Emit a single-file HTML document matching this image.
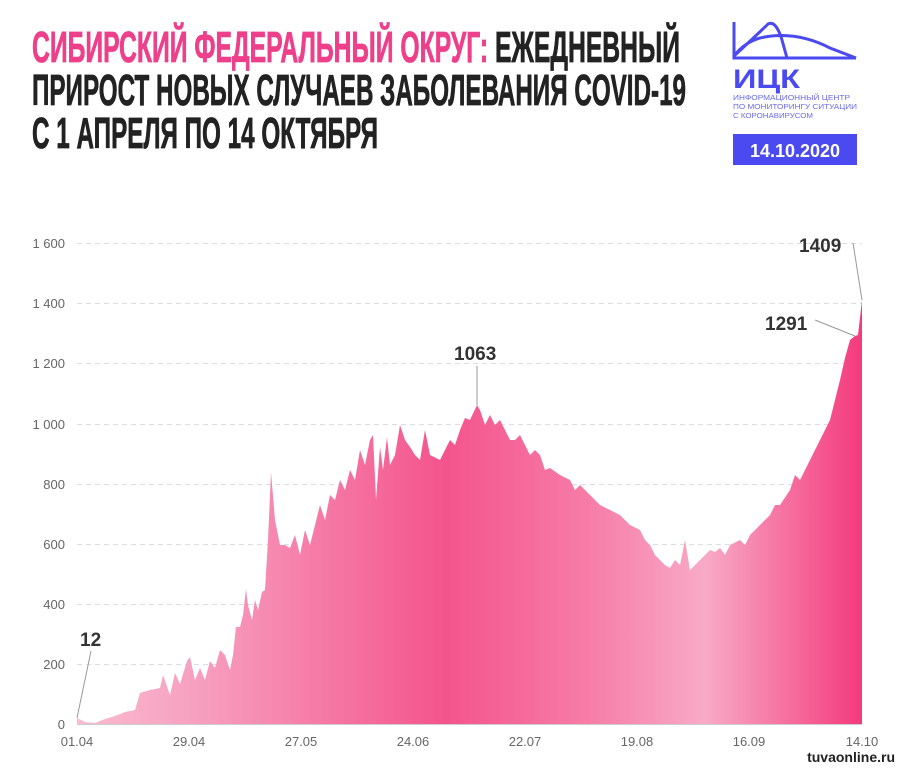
<!DOCTYPE html>
<html><head><meta charset="utf-8"><style>
html,body{margin:0;padding:0;background:#fff;}
svg{display:block;}
</style></head><body>
<svg width="900" height="769" viewBox="0 0 900 769" xmlns="http://www.w3.org/2000/svg">
<defs>
<linearGradient id="g" x1="77" y1="0" x2="862" y2="0" gradientUnits="userSpaceOnUse">
<stop offset="0" stop-color="#f8bcd0"/>
<stop offset="0.15" stop-color="#f7a0bf"/>
<stop offset="0.47" stop-color="#f4548c"/>
<stop offset="0.65" stop-color="#f67ca6"/>
<stop offset="0.8" stop-color="#f8aac6"/>
<stop offset="1" stop-color="#f43a7c"/>
</linearGradient>
</defs>
<g font-family="'Liberation Sans Narrow','Liberation Sans',sans-serif" font-weight="bold" font-size="44" stroke-width="0.8">
<text x="32" y="62" textLength="648" lengthAdjust="spacingAndGlyphs"><tspan fill="#ee3f8a" stroke="#ee3f8a">СИБИРСКИЙ ФЕДЕРАЛЬНЫЙ ОКРУГ:</tspan><tspan fill="#222" stroke="#222"> ЕЖЕДНЕВНЫЙ</tspan></text>
<text x="32" y="105" fill="#222" stroke="#222" textLength="654" lengthAdjust="spacingAndGlyphs">ПРИРОСТ НОВЫХ СЛУЧАЕВ ЗАБОЛЕВАНИЯ COVID-19</text>
<text x="32" y="148" fill="#222" stroke="#222" textLength="346" lengthAdjust="spacingAndGlyphs">С 1 АПРЕЛЯ ПО 14 ОКТЯБРЯ</text>
</g>
<g stroke="#4a4af0" stroke-width="3" fill="none">
<path d="M734 22 V58 H856 M856 58 L830 48 Q795 30 760 38 Q745 42 734 56 M734 56 Q760 32 768 24 Q776 20 782 40 L787 58"/>
</g>
<text x="733" y="88" fill="#4a4af0" font-family="'Liberation Sans',sans-serif" font-weight="bold" font-size="27" textLength="67" lengthAdjust="spacingAndGlyphs">ИЦК</text>
<g fill="#6a6af0" font-family="'Liberation Sans',sans-serif" font-size="7.5">
<text x="733" y="100" textLength="117" lengthAdjust="spacingAndGlyphs">ИНФОРМАЦИОННЫЙ ЦЕНТР</text>
<text x="733" y="109" textLength="124" lengthAdjust="spacingAndGlyphs">ПО МОНИТОРИНГУ СИТУАЦИИ</text>
<text x="733" y="118" textLength="80" lengthAdjust="spacingAndGlyphs">С КОРОНАВИРУСОМ</text>
</g>
<rect x="733" y="134" width="124" height="31" fill="#4a4af0"/>
<text x="795" y="157" fill="#fff" text-anchor="middle" font-family="'Liberation Sans',sans-serif" font-weight="bold" font-size="18">14.10.2020</text>
<g stroke="#ddd" stroke-dasharray="5,4" stroke-width="1">
<line x1="77" x2="862" y1="243.5" y2="243.5"/><line x1="77" x2="862" y1="303.5" y2="303.5"/>
<line x1="77" x2="862" y1="363.5" y2="363.5"/><line x1="77" x2="862" y1="424.5" y2="424.5"/>
<line x1="77" x2="862" y1="484.5" y2="484.5"/><line x1="77" x2="862" y1="544.5" y2="544.5"/>
<line x1="77" x2="862" y1="604.5" y2="604.5"/><line x1="77" x2="862" y1="664.5" y2="664.5"/>
</g>
<g fill="#666" font-family="'Liberation Sans',sans-serif" font-size="13" text-anchor="end">
<text x="65" y="248">1 600</text><text x="65" y="308">1 400</text><text x="65" y="368">1 200</text>
<text x="65" y="429">1 000</text><text x="65" y="489">800</text><text x="65" y="549">600</text>
<text x="65" y="609">400</text><text x="65" y="669">200</text><text x="65" y="729">0</text>
</g>
<path fill="url(#g)" d="M77 724 L77 718 L85 722 L95 723 L105 719 L115 716 L125 712 L135 710 L140 693 L150 690 L160 688 L163 675 L170 695 L175 673 L180 684 L187 661 L190 657 L195 680 L200 668 L205 680 L210 661 L215 668 L220 650 L225 655 L230 670 L233 655 L236 627 L240 627 L243 615 L246 589 L248 605 L252 620 L255 600 L258 610 L262 592 L265 590 L268 540 L271 472 L275 520 L280 545 L285 545 L290 548 L295 535 L300 555 L305 530 L310 545 L315 525 L320 505 L325 520 L330 495 L335 500 L340 480 L345 490 L350 470 L355 480 L360 450 L365 465 L370 440 L373 435 L376 500 L380 447 L383 470 L387 437 L390 465 L395 455 L400 425 L405 440 L410 447 L415 455 L420 460 L425 430 L430 455 L440 460 L445 450 L450 440 L455 445 L460 430 L465 418 L470 420 L477 405 L480 410 L485 425 L490 415 L495 425 L500 420 L505 430 L510 440 L515 440 L520 435 L525 445 L530 455 L535 450 L540 455 L545 470 L550 468 L560 475 L570 480 L575 490 L580 485 L590 495 L600 505 L610 510 L620 515 L625 520 L630 525 L640 530 L645 540 L650 545 L655 555 L660 560 L665 565 L670 568 L675 560 L680 565 L685 540 L690 570 L695 565 L700 560 L705 555 L710 550 L715 552 L720 548 L725 555 L730 545 L740 540 L745 545 L750 535 L760 525 L770 515 L775 505 L780 505 L790 490 L795 475 L800 480 L805 470 L810 460 L815 450 L820 440 L825 430 L830 420 L835 400 L840 380 L845 358 L850 340 L855 336 L858 335 L862 300 L862 724 Z"/>
<line x1="77" x2="862" y1="724.5" y2="724.5" stroke="#ccc"/>
<g stroke="#999" stroke-width="1">
<line x1="91" y1="651" x2="77" y2="718"/>
<line x1="477" y1="366" x2="477" y2="405"/>
<line x1="815" y1="320" x2="855" y2="336"/>
<line x1="853" y1="243" x2="862" y2="300"/>
</g>
<g fill="#333" font-family="'Liberation Sans',sans-serif" font-weight="bold" font-size="19">
<text x="80" y="646">12</text>
<text x="454" y="360">1063</text>
<text x="765" y="330">1291</text>
<text x="799" y="252">1409</text>
</g>
<g fill="#666" font-family="'Liberation Sans',sans-serif" font-size="13" text-anchor="middle">
<text x="77" y="746">01.04</text><text x="189" y="746">29.04</text><text x="301" y="746">27.05</text>
<text x="413" y="746">24.06</text><text x="525" y="746">22.07</text><text x="637" y="746">19.08</text>
<text x="749" y="746">16.09</text><text x="862" y="746">14.10</text>
</g>
<text x="895" y="762" text-anchor="end" fill="#222" font-family="'Liberation Sans',sans-serif" font-weight="bold" font-size="14">tuvaonline.ru</text>
</svg>
</body></html>
